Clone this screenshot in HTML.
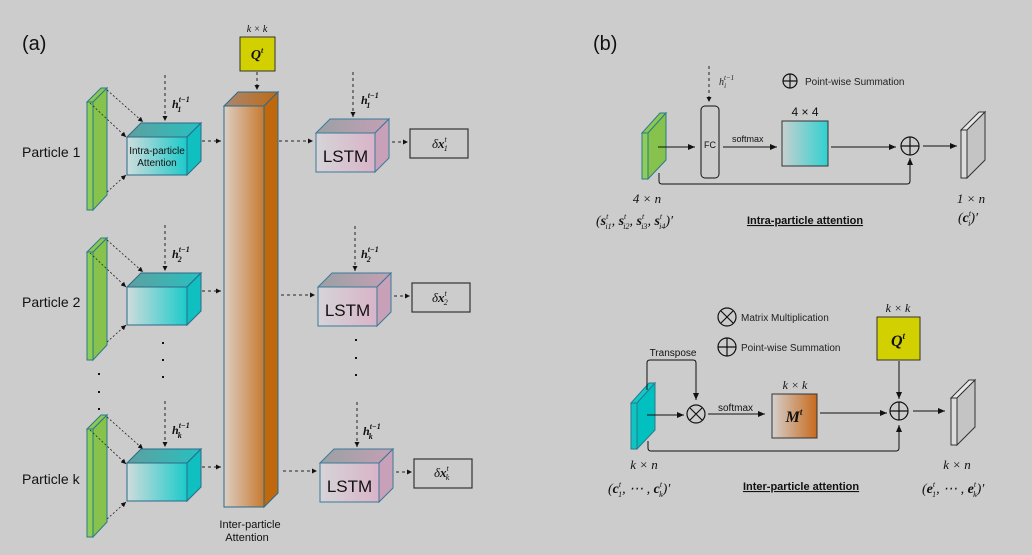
<!DOCTYPE html>
<html><head><meta charset="utf-8"><style>
html,body{margin:0;padding:0;background:#cccccc;}
svg{display:block;font-family:"Liberation Sans",sans-serif;}
.m{font-family:"Liberation Serif",serif;font-style:italic;}
</style></head><body>
<svg width="1032" height="555" viewBox="0 0 1032 555" xmlns="http://www.w3.org/2000/svg">
<defs>
<linearGradient id="cf" x1="0" x2="1"><stop offset="0" stop-color="#cfdcdc"/><stop offset="1" stop-color="#1ccaca"/></linearGradient>
<linearGradient id="ct" x1="0" x2="1"><stop offset="0" stop-color="#5e9f9e"/><stop offset="1" stop-color="#28c0c0"/></linearGradient>
<linearGradient id="lf" x1="0" x2="1"><stop offset="0" stop-color="#d6d4d8"/><stop offset="1" stop-color="#d8b4c8"/></linearGradient>
<linearGradient id="lt" x1="0" x2="1"><stop offset="0" stop-color="#9aa0a4"/><stop offset="1" stop-color="#c4a0b4"/></linearGradient>
<linearGradient id="bf" x1="0" x2="1"><stop offset="0" stop-color="#dccfc4"/><stop offset="1" stop-color="#c87a30"/></linearGradient>
<linearGradient id="bt" x1="0" x2="1"><stop offset="0" stop-color="#a88870"/><stop offset="1" stop-color="#c06a14"/></linearGradient>
<linearGradient id="sq" x1="0" x2="1"><stop offset="0" stop-color="#c8d0d0"/><stop offset="1" stop-color="#30d0d0"/></linearGradient>
<linearGradient id="mq" x1="0" x2="1"><stop offset="0" stop-color="#d4d0cc"/><stop offset="1" stop-color="#c86a1c"/></linearGradient>
<marker id="a" markerWidth="8" markerHeight="8" refX="7" refY="4" orient="auto" markerUnits="userSpaceOnUse"><path d="M0,1 L7,4 L0,7 z" fill="#111"/></marker>
<marker id="s" markerWidth="6" markerHeight="6" refX="5" refY="3" orient="auto" markerUnits="userSpaceOnUse"><path d="M0,0.5 L5,3 L0,5.5 z" fill="#111"/></marker>
<g id="plate">
<polygon points="87,102 101,88 107,88 93,102" fill="#8cc850" stroke="#2a7a8a" stroke-width="1"/>
<rect x="87" y="102" width="6" height="108" fill="#90cc58" stroke="#2a7a8a" stroke-width="1"/>
<polygon points="93,102 107,88 107,195 93,210" fill="#86c24c" stroke="#2a7a8a" stroke-width="1"/>
<g stroke="#222" stroke-width="0.8" stroke-dasharray="2,2" fill="none">
<line x1="107" y1="90" x2="143" y2="122" marker-end="url(#s)"/>
<line x1="90" y1="103" x2="126" y2="137" marker-end="url(#s)"/>
<line x1="107" y1="192" x2="126" y2="175" marker-end="url(#s)"/>
</g>
</g>
<g id="cube">
<polygon points="127,137 141,123 201,123 187,137" fill="url(#ct)" stroke="#2a6a8a"/>
<polygon points="187,137 201,123 201,161 187,175" fill="#10c0c0" stroke="#2a6a8a"/>
<rect x="127" y="137" width="60" height="38" fill="url(#cf)" stroke="#2a6a8a"/>
<line x1="165" y1="75" x2="165" y2="121" stroke="#222" stroke-dasharray="3,3" marker-end="url(#s)"/>
<line x1="202" y1="141" x2="221" y2="141" stroke="#222" stroke-dasharray="3,3" marker-end="url(#s)"/>
</g>
<g id="lstm">
<polygon points="316,133 330,119 389,119 375,133" fill="url(#lt)" stroke="#3a7a9a"/>
<polygon points="375,133 389,119 389,158 375,172" fill="#c8a0b8" stroke="#3a7a9a"/>
<rect x="316" y="133" width="59" height="39" fill="url(#lf)" stroke="#3a7a9a"/>
<text x="345.5" y="162" font-size="17" text-anchor="middle" fill="#111">LSTM</text>
<line x1="353" y1="72" x2="353" y2="117" stroke="#222" stroke-dasharray="3,3" marker-end="url(#s)"/>
<line x1="279" y1="141" x2="313" y2="141" stroke="#222" stroke-dasharray="3,3" marker-end="url(#s)"/>
<line x1="392" y1="142" x2="408" y2="142" stroke="#222" stroke-dasharray="3,3" marker-end="url(#s)"/>
<rect x="410" y="129" width="58" height="29" fill="none" stroke="#333" stroke-width="1.2"/>
</g>
</defs>

<text x="22" y="50" font-size="20" fill="#111">(a)</text>
<text x="22" y="157" font-size="14" fill="#111">Particle 1</text>
<text x="22" y="307" font-size="14" fill="#111">Particle 2</text>
<text x="22" y="484" font-size="14" fill="#111">Particle k</text>

<use href="#plate"/>
<use href="#plate" transform="translate(0,150)"/>
<use href="#plate" transform="translate(0,327)"/>
<use href="#cube"/>
<use href="#cube" transform="translate(0,150)"/>
<use href="#cube" transform="translate(0,326)"/>
<text x="157" y="154" font-size="10" text-anchor="middle" fill="#111">Intra-particle</text>
<text x="157" y="166" font-size="10" text-anchor="middle" fill="#111">Attention</text>

<g class="m" font-size="12" font-weight="bold" fill="#111">
<text x="172" y="108">h<tspan font-size="8" dy="-6">t−1</tspan><tspan font-size="8" dx="-12" dy="10">1</tspan></text>
<text x="172" y="258">h<tspan font-size="8" dy="-6">t−1</tspan><tspan font-size="8" dx="-12" dy="10">2</tspan></text>
<text x="172" y="434">h<tspan font-size="8" dy="-6">t−1</tspan><tspan font-size="8" dx="-12" dy="10">k</tspan></text>
<text x="361" y="104">h<tspan font-size="8" dy="-6">t−1</tspan><tspan font-size="8" dx="-12" dy="10">1</tspan></text>
<text x="361" y="258">h<tspan font-size="8" dy="-6">t−1</tspan><tspan font-size="8" dx="-12" dy="10">2</tspan></text>
<text x="363" y="435">h<tspan font-size="8" dy="-6">t−1</tspan><tspan font-size="8" dx="-12" dy="10">k</tspan></text>
</g>

<!-- bar -->
<polygon points="224,106 238,92 278,92 264,106" fill="url(#bt)" stroke="#2a6a8a"/>
<polygon points="264,106 278,92 278,493 264,507" fill="#c0680e" stroke="#2a6a8a"/>
<rect x="224" y="106" width="40" height="401" fill="url(#bf)" stroke="#2a6a8a"/>
<text x="250" y="528" font-size="11" text-anchor="middle" fill="#111">Inter-particle</text>
<text x="247" y="541" font-size="11" text-anchor="middle" fill="#111">Attention</text>
<rect x="240" y="37" width="35" height="34" fill="#d2d000" stroke="#333"/>
<text x="257" y="59" class="m" font-size="14" font-weight="bold" text-anchor="middle" fill="#111">Q<tspan font-size="8" dy="-6">t</tspan></text>
<text x="257" y="32" class="m" font-size="10" text-anchor="middle" fill="#111">k × k</text>
<line x1="257" y1="72" x2="257" y2="90" stroke="#222" stroke-dasharray="3,3" marker-end="url(#s)"/>

<use href="#lstm"/>
<use href="#lstm" transform="translate(2,154)"/>
<use href="#lstm" transform="translate(4,330)"/>
<g class="m" font-size="13" fill="#111">
<text x="432" y="148">δ<tspan font-weight="bold">x</tspan><tspan font-size="8" dy="-6">t</tspan><tspan font-size="8" dx="-3" dy="9">1</tspan></text>
<text x="432" y="302">δ<tspan font-weight="bold">x</tspan><tspan font-size="8" dy="-6">t</tspan><tspan font-size="8" dx="-3" dy="9">2</tspan></text>
<text x="434" y="477">δ<tspan font-weight="bold">x</tspan><tspan font-size="8" dy="-6">t</tspan><tspan font-size="8" dx="-3" dy="9">k</tspan></text>
</g>
<g fill="#111">
<rect x="162" y="342" width="2" height="2"/><rect x="162" y="359" width="2" height="2"/><rect x="162" y="376" width="2" height="2"/>
<rect x="355" y="339" width="2" height="2"/><rect x="355" y="357" width="2" height="2"/><rect x="355" y="374" width="2" height="2"/>
<rect x="98" y="373" width="2" height="2"/><rect x="98" y="391" width="2" height="2"/><rect x="98" y="408" width="2" height="2"/>
</g>

<!-- (b) upper -->
<text x="593" y="50" font-size="20" fill="#111">(b)</text>
<line x1="709" y1="66" x2="709" y2="102" stroke="#222" stroke-dasharray="3,3" marker-end="url(#s)"/>
<text x="719" y="85" class="m" font-size="10" fill="#222">h<tspan font-size="7" dy="-5">t−1</tspan><tspan font-size="7" dx="-10" dy="8">i</tspan></text>
<circle cx="790" cy="81" r="7" fill="none" stroke="#111" stroke-width="1.2"/><path d="M783,81h14M790,74v14" stroke="#111" stroke-width="1.2"/>
<text x="805" y="85" font-size="10" fill="#222">Point-wise Summation</text>
<polygon points="642,133 660,113 666,113 648,133" fill="#8cc850" stroke="#2a7a8a"/>
<rect x="642" y="133" width="6" height="46" fill="#90cc58" stroke="#2a7a8a"/>
<polygon points="648,133 666,113 666,160 648,179" fill="#86c24c" stroke="#2a7a8a"/>
<line x1="658" y1="147" x2="695" y2="147" stroke="#111" marker-end="url(#a)"/>
<rect x="701" y="106" width="18" height="72" rx="4" fill="none" stroke="#111"/>
<text x="710" y="148" font-size="9" text-anchor="middle" fill="#111">FC</text>
<text x="732" y="142" font-size="9" fill="#111">softmax</text>
<line x1="723" y1="147" x2="777" y2="147" stroke="#111" marker-end="url(#a)"/>
<text x="805" y="116" font-size="12" text-anchor="middle" fill="#111">4 × 4</text>
<rect x="782" y="121" width="46" height="45" fill="url(#sq)" stroke="#333"/>
<line x1="831" y1="147" x2="896" y2="147" stroke="#111" marker-end="url(#a)"/>
<circle cx="910" cy="146" r="9" fill="none" stroke="#111" stroke-width="1.2"/><path d="M901,146h18M910,137v18" stroke="#111" stroke-width="1.2"/>
<line x1="923" y1="146" x2="957" y2="146" stroke="#111" marker-end="url(#a)"/>
<polygon points="961,130 979,112 985,112 967,130" fill="#e8e8e8" stroke="#333"/>
<rect x="961" y="130" width="6" height="48" fill="#dcdcdc" stroke="#333"/>
<polygon points="967,130 985,112 985,160 967,178" fill="#c4c4c4" stroke="#333"/>
<path d="M659,173 V181 Q659,184 662,184 H907 Q910,184 910,181 V158" fill="none" stroke="#111" marker-end="url(#a)"/>
<text x="647" y="203" class="m" font-size="13" text-anchor="middle" fill="#111">4 × n</text>
<text x="596" y="225" class="m" font-size="14" fill="#111">(<tspan font-weight="bold">s</tspan><tspan font-size="8" dy="-6">t</tspan><tspan font-size="8" dx="-3" dy="10">i1</tspan><tspan dy="-4">, </tspan><tspan font-weight="bold">s</tspan><tspan font-size="8" dy="-6">t</tspan><tspan font-size="8" dx="-3" dy="10">i2</tspan><tspan dy="-4">, </tspan><tspan font-weight="bold">s</tspan><tspan font-size="8" dy="-6">t</tspan><tspan font-size="8" dx="-3" dy="10">i3</tspan><tspan dy="-4">, </tspan><tspan font-weight="bold">s</tspan><tspan font-size="8" dy="-6">t</tspan><tspan font-size="8" dx="-3" dy="10">i4</tspan><tspan dy="-4">)′</tspan></text>
<text x="805" y="224" font-size="11" font-weight="bold" text-anchor="middle" fill="#111" text-decoration="underline">Intra-particle attention</text>
<text x="971" y="203" class="m" font-size="13" text-anchor="middle" fill="#111">1 × n</text>
<text x="958" y="222" class="m" font-size="14" fill="#111">(<tspan font-weight="bold">c</tspan><tspan font-size="8" dy="-6">t</tspan><tspan font-size="8" dx="-3" dy="10">i</tspan><tspan dy="-4">)′</tspan></text>

<!-- (b) lower -->
<circle cx="727" cy="317" r="9" fill="none" stroke="#111" stroke-width="1.2"/><path d="M721,311l12,12M733,311l-12,12" stroke="#111" stroke-width="1.2"/>
<text x="741" y="321" font-size="10" fill="#222">Matrix Multiplication</text>
<circle cx="727" cy="347" r="9" fill="none" stroke="#111" stroke-width="1.2"/><path d="M718,347h18M727,338v18" stroke="#111" stroke-width="1.2"/>
<text x="741" y="351" font-size="10" fill="#222">Point-wise Summation</text>
<text x="898" y="312" class="m" font-size="12" text-anchor="middle" fill="#111">k × k</text>
<rect x="877" y="317" width="43" height="43" fill="#d2d000" stroke="#333"/>
<text x="898" y="346" class="m" font-size="16" font-weight="bold" text-anchor="middle" fill="#111">Q<tspan font-size="9" dy="-7">t</tspan></text>
<line x1="899" y1="361" x2="899" y2="399" stroke="#111" marker-end="url(#a)"/>
<polygon points="631,403 649,383 655,383 637,403" fill="#10c8c8" stroke="#2a7a8a"/>
<rect x="631" y="403" width="6" height="46" fill="#10c4c4" stroke="#2a7a8a"/>
<polygon points="637,403 655,383 655,430 637,449" fill="#00c0c0" stroke="#2a7a8a"/>
<path d="M647,390 V363 Q647,360 650,360 H693 Q696,360 696,363 V400" fill="none" stroke="#111" marker-end="url(#a)"/>
<text x="673" y="356" font-size="10" text-anchor="middle" fill="#111">Transpose</text>
<line x1="647" y1="415" x2="684" y2="415" stroke="#111" marker-end="url(#a)"/>
<circle cx="696" cy="414" r="9" fill="none" stroke="#111" stroke-width="1.2"/><path d="M690,408l12,12M702,408l-12,12" stroke="#111" stroke-width="1.2"/>
<text x="718" y="411" font-size="10" fill="#111">softmax</text>
<line x1="708" y1="414" x2="765" y2="414" stroke="#111" marker-end="url(#a)"/>
<text x="795" y="389" class="m" font-size="12" text-anchor="middle" fill="#111">k × k</text>
<rect x="772" y="394" width="45" height="44" fill="url(#mq)" stroke="#333"/>
<text x="794" y="422" class="m" font-size="16" font-weight="bold" text-anchor="middle" fill="#111">M<tspan font-size="9" dy="-7">t</tspan></text>
<line x1="820" y1="413" x2="887" y2="413" stroke="#111" marker-end="url(#a)"/>
<circle cx="899" cy="411" r="9" fill="none" stroke="#111" stroke-width="1.2"/><path d="M890,411h18M899,402v18" stroke="#111" stroke-width="1.2"/>
<line x1="913" y1="411" x2="945" y2="411" stroke="#111" marker-end="url(#a)"/>
<polygon points="951,398 969,380 975,380 957,398" fill="#e8e8e8" stroke="#333"/>
<rect x="951" y="398" width="6" height="47" fill="#dcdcdc" stroke="#333"/>
<polygon points="957,398 975,380 975,427 957,445" fill="#c4c4c4" stroke="#333"/>
<path d="M648,441 V448 Q648,451 651,451 H896 Q899,451 899,448 V425" fill="none" stroke="#111" marker-end="url(#a)"/>
<text x="644" y="469" class="m" font-size="13" text-anchor="middle" fill="#111">k × n</text>
<text x="608" y="493" class="m" font-size="14" fill="#111">(<tspan font-weight="bold">c</tspan><tspan font-size="8" dy="-6">t</tspan><tspan font-size="8" dx="-3" dy="10">1</tspan><tspan dy="-4">, ⋯ , </tspan><tspan font-weight="bold">c</tspan><tspan font-size="8" dy="-6">t</tspan><tspan font-size="8" dx="-3" dy="10">k</tspan><tspan dy="-4">)′</tspan></text>
<text x="801" y="490" font-size="11" font-weight="bold" text-anchor="middle" fill="#111" text-decoration="underline">Inter-particle attention</text>
<text x="957" y="469" class="m" font-size="13" text-anchor="middle" fill="#111">k × n</text>
<text x="922" y="493" class="m" font-size="14" fill="#111">(<tspan font-weight="bold">e</tspan><tspan font-size="8" dy="-6">t</tspan><tspan font-size="8" dx="-3" dy="10">1</tspan><tspan dy="-4">, ⋯ , </tspan><tspan font-weight="bold">e</tspan><tspan font-size="8" dy="-6">t</tspan><tspan font-size="8" dx="-3" dy="10">k</tspan><tspan dy="-4">)′</tspan></text>
</svg>
</body></html>
